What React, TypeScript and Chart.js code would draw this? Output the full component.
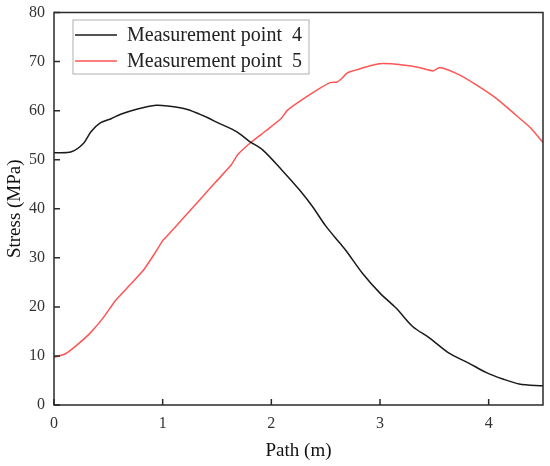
import React, { useEffect, useRef } from "react";
import { Chart, registerables } from "chart.js";

Chart.register(...registerables);

const path4 = [0, 0.16, 0.27, 0.34, 0.42, 0.53, 0.62, 0.76, 0.94, 1.06, 1.22, 1.37, 1.52, 1.68, 1.8, 1.92, 2.1, 2.26, 2.38, 2.5, 2.63, 2.69, 2.84, 3.0, 3.15, 3.3, 3.46, 3.64, 3.82, 3.98, 4.13, 4.28, 4.5];
const stress4 = [51.4, 51.6, 53.3, 55.7, 57.4, 58.4, 59.3, 60.3, 61.1, 60.9, 60.3, 59.0, 57.4, 55.7, 53.7, 52.0, 47.8, 43.8, 40.4, 36.5, 33.0, 31.4, 26.8, 22.8, 19.7, 16.0, 13.6, 10.5, 8.5, 6.6, 5.3, 4.3, 3.9];

const path5 = [0, 0.11, 0.21, 0.33, 0.45, 0.57, 0.7, 0.82, 0.93, 1.0, 1.03, 1.19, 1.34, 1.49, 1.63, 1.69, 1.8, 1.95, 2.09, 2.15, 2.35, 2.54, 2.6, 2.64, 2.7, 2.81, 2.94, 3.03, 3.21, 3.36, 3.49, 3.55, 3.73, 3.89, 4.07, 4.25, 4.38, 4.5];
const stress5 = [9.7, 10.5, 12.2, 14.6, 17.7, 21.4, 24.5, 27.4, 31.0, 33.5, 34.2, 38.1, 41.8, 45.5, 48.9, 51.0, 53.3, 55.9, 58.4, 60.1, 63.2, 65.7, 65.8, 66.4, 67.7, 68.5, 69.3, 69.6, 69.3, 68.8, 68.1, 68.8, 67.3, 65.2, 62.5, 59.1, 56.6, 53.5];

const seriesLabels = ["Measurement point  4", "Measurement point  5"];
const seriesColors = ["#1a1a1a", "#ff5555"];
const xTitle = "Path (m)";
const yTitle = "Stress (MPa)";
const xRange = [0, 4.5];
const yRange = [0, 80];

const FONT = "'Liberation Serif', 'Times New Roman', serif";

const framePlugin = {
  id: "frameAndTicks",
  afterDatasetsDraw(chart: any) {
    const { ctx, chartArea } = chart;
    const { left, right, top, bottom } = chartArea;
    ctx.save();
    ctx.strokeStyle = "#2a2a2a";
    ctx.lineWidth = 1.5;
    ctx.strokeRect(left, top, right - left, bottom - top);
    const xs = chart.scales.x;
    const ys = chart.scales.y;
    ctx.beginPath();
    xs.ticks.forEach((t: any) => {
      const px = xs.getPixelForValue(t.value);
      ctx.moveTo(px, bottom);
      ctx.lineTo(px, bottom - 6);
    });
    ys.ticks.forEach((t: any) => {
      const py = ys.getPixelForValue(t.value);
      ctx.moveTo(left, py);
      ctx.lineTo(left + 6, py);
    });
    ctx.stroke();
    ctx.restore();
  },
  afterDraw(chart: any) {
    const { ctx, chartArea } = chart;
    const bx = chartArea.left + 19;
    const by = chartArea.top + 7.5;
    ctx.save();
    ctx.fillStyle = "#ffffff";
    ctx.fillRect(bx, by, 236, 54);
    ctx.strokeStyle = "#b0b0b0";
    ctx.lineWidth = 1;
    ctx.strokeRect(bx, by, 236, 54);
    chart.data.datasets.forEach((ds: any, i: number) => {
      const cy = by + 15 + i * 26;
      ctx.strokeStyle = ds.borderColor;
      ctx.lineWidth = 1.5;
      ctx.beginPath();
      ctx.moveTo(bx + 2, cy);
      ctx.lineTo(bx + 44, cy);
      ctx.stroke();
      ctx.fillStyle = "#222";
      ctx.font = `20px ${FONT}`;
      ctx.textBaseline = "middle";
      ctx.textAlign = "left";
      ctx.fillText(ds.label, bx + 54, cy + 1);
    });
    ctx.restore();
  },
};

export default function App() {
  const ref = useRef<HTMLCanvasElement | null>(null);
  useEffect(() => {
    document.body.style.margin = "0";
    const canvas = ref.current;
    if (!canvas) return;
    const chart = new Chart(canvas, {
      type: "line",
      data: {
        datasets: [
          {
            label: seriesLabels[0],
            data: path4.map((x, i) => ({ x, y: stress4[i] })),
            borderColor: seriesColors[0],
            borderWidth: 1.5,
            pointRadius: 0,
            tension: 0.3,
            fill: false,
          },
          {
            label: seriesLabels[1],
            data: path5.map((x, i) => ({ x, y: stress5[i] })),
            borderColor: seriesColors[1],
            borderWidth: 1.5,
            pointRadius: 0,
            tension: 0.2,
            fill: false,
          },
        ],
      },
      options: {
        responsive: false,
        animation: false,
        layout: { padding: { top: 12.5, right: 7, bottom: 0, left: 0 } },
        plugins: { legend: { display: false }, tooltip: { enabled: false } },
        scales: {
          x: {
            type: "linear",
            min: xRange[0],
            max: xRange[1],
            grid: { display: false, drawTicks: false },
            border: { display: false },
            afterBuildTicks: (s: any) => {
              s.ticks = s.ticks.filter((t: any) => Number.isInteger(t.value));
            },
            afterFit: (s: any) => {
              s.height = 61;
              s.paddingLeft = 0;
              s.paddingRight = 0;
            },
            ticks: {
              stepSize: 1,
              color: "#333",
              padding: 9,
              font: { family: FONT, size: 16 },
              maxRotation: 0,
            },
            title: {
              display: true,
              text: xTitle,
              color: "#111",
              font: { family: FONT, size: 19 },
              padding: { top: 0, bottom: 4 },
            },
          },
          y: {
            min: yRange[0],
            max: yRange[1],
            grid: { display: false, drawTicks: false },
            border: { display: false },
            afterFit: (s: any) => {
              s.width = 54;
              s.paddingTop = 0;
              s.paddingBottom = 0;
            },
            ticks: {
              stepSize: 10,
              color: "#333",
              padding: 9,
              font: { family: FONT, size: 16 },
            },
            title: {
              display: true,
              text: yTitle,
              color: "#111",
              font: { family: FONT, size: 19 },
              padding: { top: 4, bottom: 0 },
            },
          },
        },
      },
      plugins: [framePlugin],
    });
    return () => chart.destroy();
  }, []);
  return (
    <div style={{ width: 550, height: 466, background: "#fff" }}>
      <canvas ref={ref} width={550} height={466} />
    </div>
  );
}
